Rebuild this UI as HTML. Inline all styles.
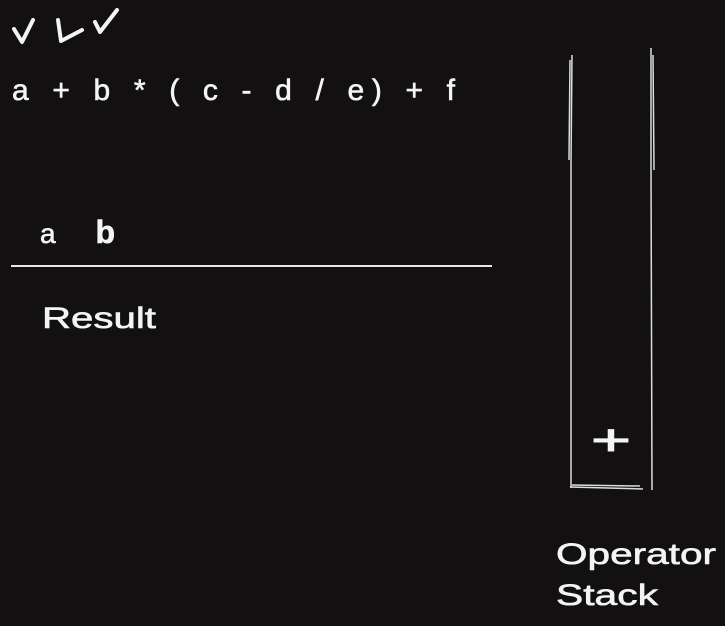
<!DOCTYPE html>
<html><head><meta charset="utf-8"><style>
html,body{margin:0;padding:0;background:#121010;}
svg{display:block}
text{font-family:"Liberation Sans",sans-serif;fill:#f4f4f4;}
</style></head><body>
<svg width="725" height="626" viewBox="0 0 725 626">
<rect width="725" height="626" fill="#121010"/>
<g fill="none" stroke="#f4f4f4" stroke-width="4" stroke-linecap="round" stroke-linejoin="round">
<path d="M14 29 L22 42 L33 20"/>
<path d="M58 20 L61 41 L82 30"/>
<path d="M95 22 L100 32 L117 10"/>
</g>
<text x="12" y="100" font-size="30" textLength="443" lengthAdjust="spacing" stroke="#f4f4f4" stroke-width="0.6">a + b * ( c - d / e) + f</text>
<text x="40" y="243" font-size="28" textLength="75" lengthAdjust="spacing" stroke="#f4f4f4" stroke-width="0.6">a <tspan font-weight="bold" font-size="32">b</tspan></text>
<line x1="11" y1="266" x2="492" y2="266" stroke="#e8e8e8" stroke-width="2"/>
<text x="42" y="328" font-size="30" textLength="114" lengthAdjust="spacingAndGlyphs" stroke="#f4f4f4" stroke-width="0.6">Result</text>
<g fill="none" stroke="#dcdcdc" stroke-width="1.5">
<path d="M572 55 L571 165 L571 488"/>
<path d="M570 60 L569 160"/>
<path d="M651 48 L651 165 L652 490"/>
<path d="M653 55 L654 170"/>
<path d="M570 487 L643 489"/>
<path d="M572 485 L640 486"/>
</g>
<text x="591" y="455" font-size="44" textLength="40" lengthAdjust="spacingAndGlyphs" stroke="#f4f4f4" stroke-width="1">+</text>
<text x="556" y="564" font-size="30" textLength="160" lengthAdjust="spacingAndGlyphs" stroke="#f4f4f4" stroke-width="0.6">Operator</text>
<text x="556" y="605" font-size="30" textLength="102" lengthAdjust="spacingAndGlyphs" stroke="#f4f4f4" stroke-width="0.6">Stack</text>
</svg>
</body></html>
